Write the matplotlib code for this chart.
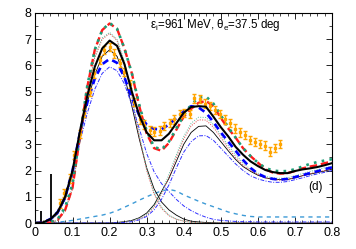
import numpy as np
import matplotlib
matplotlib.use("Agg")
import matplotlib.pyplot as plt
from matplotlib.ticker import MultipleLocator

plt.rcParams['font.family'] = ['Liberation Sans', 'DejaVu Sans']
plt.rcParams['mathtext.fontset'] = 'custom'
plt.rcParams['mathtext.rm'] = 'Liberation Sans'

# energy transfer grid (GeV)
omega = [0.00, 0.02, 0.04, 0.06, 0.08, 0.10, 0.12, 0.14, 0.16, 0.18,
         0.20, 0.22, 0.24, 0.26, 0.28, 0.30, 0.32, 0.34, 0.36, 0.38,
         0.40, 0.42, 0.44, 0.46, 0.48, 0.50, 0.52, 0.54, 0.56, 0.58,
         0.60, 0.62, 0.64, 0.66, 0.68, 0.70, 0.72, 0.74, 0.76, 0.78, 0.80]

# totals
tot_black = [0.0, 0.02, 0.15, 0.42, 1.0, 2.0, 3.5, 4.85, 5.95, 6.65,
             6.95, 6.75, 6.05, 5.0, 4.1, 3.45, 3.15, 3.15, 3.4, 3.8,
             4.2, 4.42, 4.45, 4.43, 4.05, 3.65, 3.3, 2.9, 2.6, 2.35,
             2.17, 2.02, 1.94, 1.9, 1.9, 1.98, 2.04, 2.08, 2.13, 2.2, 2.28]
tot_red = [0.0, 0.0, 0.02, 0.12, 0.5, 1.35, 3.3, 5.2, 6.6, 7.35,
           7.6, 7.4, 6.65, 5.7, 4.45, 3.4, 2.85, 2.75, 3.05, 3.55,
           4.05, 4.35, 4.58, 4.65, 4.45, 4.0, 3.6, 3.25, 2.85, 2.55,
           2.3, 2.05, 1.92, 1.88, 1.9, 1.98, 2.08, 2.15, 2.2, 2.28, 2.34]
tot_teal = [0.0, 0.0, 0.03, 0.15, 0.6, 1.5, 3.35, 5.25, 6.6, 7.35,
            7.62, 7.4, 6.65, 5.7, 4.5, 3.5, 2.9, 2.8, 3.1, 3.6,
            4.1, 4.5, 4.78, 4.82, 4.55, 4.1, 3.65, 3.25, 2.85, 2.55,
            2.3, 2.1, 2.0, 1.97, 1.98, 2.05, 2.15, 2.25, 2.32, 2.38, 2.43]
tot_blue = [0.0, 0.02, 0.15, 0.42, 1.0, 2.0, 3.45, 4.6, 5.5, 6.05,
            6.25, 6.1, 5.55, 4.75, 4.1, 3.75, 3.58, 3.57, 3.75, 4.0,
            4.25, 4.45, 4.4, 4.2, 3.85, 3.45, 3.1, 2.75, 2.4, 2.1,
            1.88, 1.75, 1.68, 1.65, 1.68, 1.75, 1.82, 1.9, 1.97, 2.05, 2.12]

# Delta-region components
d_black = [0.0, 0.0, 0.1, 0.35, 0.9, 1.85, 3.3, 4.6, 5.65, 6.35,
           6.6, 6.35, 5.6, 4.45, 3.2, 2.1, 1.3, 0.8, 0.5, 0.3,
           0.15, 0.07, 0.04, 0.02, 0.01, 0.0, 0.0, 0.0, 0.0, 0.0,
           0.0, 0.0, 0.0, 0.0, 0.0, 0.0, 0.0, 0.0, 0.0, 0.0, 0.0]
d_red = [0.0, 0.0, 0.02, 0.1, 0.45, 1.3, 3.15, 5.0, 6.3, 7.0,
         7.22, 6.95, 6.1, 4.8, 3.3, 2.0, 1.1, 0.55, 0.28, 0.14,
         0.07, 0.03, 0.01, 0.0, 0.0, 0.0, 0.0, 0.0, 0.0, 0.0,
         0.0, 0.0, 0.0, 0.0, 0.0, 0.0, 0.0, 0.0, 0.0, 0.0, 0.0]
d_teal = [0.0, 0.0, 0.03, 0.12, 0.5, 1.4, 3.2, 5.05, 6.35, 7.05,
          7.26, 7.0, 6.15, 4.85, 3.35, 2.05, 1.15, 0.6, 0.3, 0.15,
          0.07, 0.03, 0.01, 0.0, 0.0, 0.0, 0.0, 0.0, 0.0, 0.0,
          0.0, 0.0, 0.0, 0.0, 0.0, 0.0, 0.0, 0.0, 0.0, 0.0, 0.0]
d_blue = [0.0, 0.01, 0.1, 0.35, 0.9, 1.8, 3.1, 4.2, 5.1, 5.7,
          5.95, 5.8, 5.3, 4.5, 3.6, 2.65, 1.95, 1.5, 1.2, 0.9,
          0.65, 0.47, 0.33, 0.22, 0.14, 0.1, 0.08, 0.06, 0.05, 0.05,
          0.04, 0.04, 0.04, 0.04, 0.04, 0.04, 0.04, 0.04, 0.04, 0.04, 0.04]

# second resonance region components
r_black = [0.0, 0.0, 0.0, 0.0, 0.0, 0.0, 0.0, 0.0, 0.0, 0.0,
           0.0, 0.02, 0.05, 0.1, 0.2, 0.38, 0.7, 1.2, 1.7, 2.35,
           3.0, 3.45, 3.68, 3.7, 3.45, 3.1, 2.75, 2.42, 2.15, 1.97,
           1.82, 1.72, 1.67, 1.65, 1.66, 1.72, 1.8, 1.86, 1.92, 1.98, 2.05]
r_red = [0.0, 0.0, 0.0, 0.0, 0.0, 0.0, 0.0, 0.0, 0.0, 0.0,
         0.0, 0.01, 0.04, 0.08, 0.16, 0.3, 0.6, 1.1, 1.75, 2.5,
         3.2, 3.7, 3.93, 3.92, 3.65, 3.25, 2.85, 2.5, 2.2, 2.0,
         1.85, 1.73, 1.66, 1.63, 1.65, 1.72, 1.8, 1.88, 1.94, 2.0, 2.07]
r_teal = [0.0, 0.0, 0.0, 0.0, 0.0, 0.0, 0.0, 0.0, 0.0, 0.0,
          0.0, 0.01, 0.04, 0.09, 0.17, 0.32, 0.65, 1.15, 1.85, 2.6,
          3.3, 3.8, 4.03, 4.02, 3.75, 3.35, 2.95, 2.6, 2.28, 2.05,
          1.9, 1.78, 1.72, 1.7, 1.72, 1.8, 1.88, 1.96, 2.03, 2.1, 2.17]
r_blue = [0.0, 0.0, 0.0, 0.0, 0.0, 0.0, 0.0, 0.0, 0.0, 0.0,
          0.0, 0.01, 0.02, 0.05, 0.12, 0.25, 0.5, 0.9, 1.45, 2.1,
          2.7, 3.1, 3.32, 3.33, 3.15, 2.85, 2.55, 2.25, 2.0, 1.8,
          1.68, 1.6, 1.55, 1.55, 1.58, 1.65, 1.72, 1.8, 1.87, 1.93, 2.0]

# broad background
bg = [0.0, 0.0, 0.01, 0.03, 0.06, 0.1, 0.15, 0.2, 0.25, 0.3,
      0.37, 0.47, 0.6, 0.73, 0.87, 1.0, 1.12, 1.22, 1.28, 1.22,
      1.07, 0.95, 0.83, 0.72, 0.62, 0.52, 0.42, 0.35, 0.29, 0.25,
      0.23, 0.23, 0.23, 0.23, 0.23, 0.23, 0.23, 0.23, 0.23, 0.23, 0.23]

# narrow peaks near threshold
spike_x = [0.015, 0.042]
spike_y = [0.45, 1.85]

# measured cross section
data_x = [0.065, 0.078, 0.092, 0.105, 0.119, 0.132, 0.146, 0.159, 0.173, 0.186,
          0.200, 0.213, 0.227, 0.240, 0.254, 0.267, 0.281, 0.294, 0.308, 0.321,
          0.335, 0.348, 0.362, 0.375, 0.389, 0.402, 0.416, 0.429, 0.443, 0.456,
          0.470, 0.483, 0.497, 0.510, 0.524, 0.537, 0.551, 0.564, 0.578, 0.591,
          0.605, 0.618, 0.632, 0.645, 0.659]
data_y = [0.75, 1.15, 1.7, 2.6, 3.4, 4.2, 5.0, 5.7, 6.2, 6.6,
          6.7, 6.45, 6.1, 5.75, 5.3, 4.6, 3.95, 3.75, 3.55, 3.48,
          3.52, 3.7, 3.8, 3.95, 4.15, 4.2, 4.15, 4.75, 4.72, 4.55,
          4.45, 4.3, 4.15, 3.95, 3.8, 3.6, 3.45, 3.35, 3.16, 3.08,
          3.0, 2.95, 2.72, 2.85, 3.0]
data_err = [0.16] * len(data_x)

fig = plt.figure(figsize=(3.56, 2.49), dpi=100)
ax = fig.add_axes([0.0997, 0.1044, 0.8329, 0.8434])

teal = '#1b9e77'
lblue = '#3d9ad6'

# thin component curves
ax.plot(omega, bg, color=lblue, lw=1.0, ls=(0, (3, 3)))
for comp in (d_black, r_black):
    ax.plot(omega, comp, color='black', lw=0.6)
for comp in (d_red, r_red):
    ax.plot(omega, comp, color='#e04040', lw=0.7, ls=(0, (1, 1.5)))
for comp in (d_teal, r_teal):
    ax.plot(omega, comp, color='#5cc0a0', lw=0.7, ls=(0, (1, 1.5)))
for comp in (d_blue, r_blue):
    ax.plot(omega, comp, color='#3030ff', lw=0.7, ls=(0, (4, 1.5, 1, 1.5)))

ax.vlines(spike_x, 0, spike_y, color='black', lw=1.3)

# totals
ax.plot(omega, tot_blue, color='#0000ff', lw=1.9, ls=(0, (2.5, 1.8)), zorder=4)
ax.plot(omega, tot_red, color='#ff1a1a', lw=1.7, ls=(0, (3.2, 1.6)), zorder=4)
ax.plot(omega, tot_teal, color=teal, lw=1.9, ls=(0, (1, 2)), zorder=4)

ax.errorbar(data_x, data_y, yerr=data_err, fmt='s', ms=1.8, color='#ffa500',
            ecolor='#ffa500', elinewidth=1.0, capsize=1.6, capthick=1.0, zorder=4.5)

ax.plot(omega, tot_black, color='black', lw=1.5, zorder=5)

ax.set_xlim(0, 0.8)
ax.set_ylim(0, 8)
ax.xaxis.set_major_locator(MultipleLocator(0.1))
ax.xaxis.set_minor_locator(MultipleLocator(0.02))
ax.yaxis.set_major_locator(MultipleLocator(1))
ax.yaxis.set_minor_locator(MultipleLocator(0.5))
ax.set_xticks([0, 0.1, 0.2, 0.3, 0.4, 0.5, 0.6, 0.7, 0.8])
ax.set_xticklabels(['0', '0.1', '0.2', '0.3', '0.4', '0.5', '0.6', '0.7', '0.8'])
ax.tick_params(which='both', direction='in', top=True, right=True, labelsize=9, pad=3)
ax.tick_params(which='major', length=4, width=0.6)
ax.tick_params(which='minor', length=2, width=0.5)
for s in ax.spines.values():
    s.set_linewidth(0.8)

ax.text(0.31, 7.55, r'ε$_\mathregular{i}$=961 MeV, θ$_\mathregular{e}$=37.5 deg',
        fontsize=8.3, va='center', ha='left')
ax.text(0.735, 1.37, '(d)', fontsize=8.5, va='center', ha='left')

fig.savefig('out.png', dpi=100)
